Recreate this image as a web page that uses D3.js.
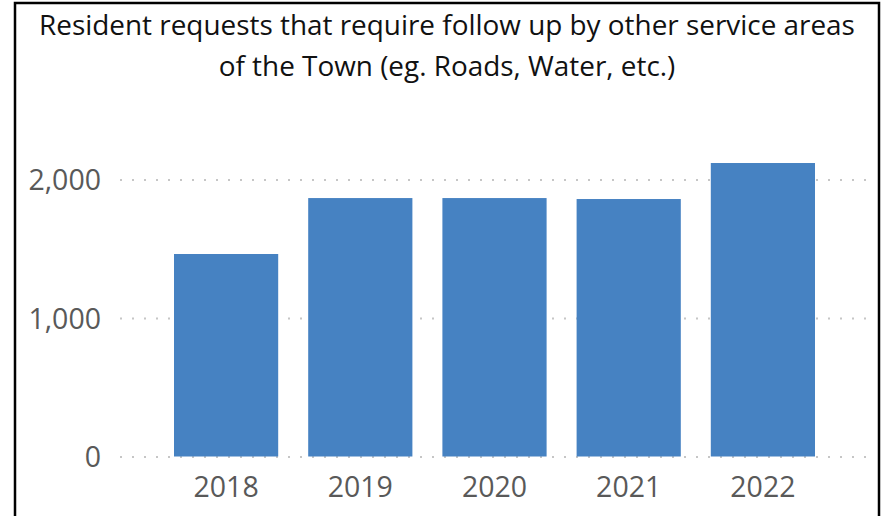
<!DOCTYPE html>
<html>
<head>
<meta charset="utf-8">
<script src="https://cdn.jsdelivr.net/npm/d3@7"></script>
<style>
  html, body { margin: 0; padding: 0; background: #fff; }
  svg { display: block; }
  text { font-family: "Open Sans", sans-serif; }
</style>
</head>
<body>
<svg id="chart" width="885" height="516"></svg>
<script>
const years = ["2018", "2019", "2020", "2021", "2022"];
const requests = [1462, 1866, 1866, 1859, 2119];
const yTicks = [0, 1000, 2000];
const titleLines = [
  "Resident requests that require follow up by other service areas",
  "of the Town (eg. Roads, Water, etc.)"
];

const svg = d3.select("#chart");

// outer frame
svg.append("rect")
  .attr("x", 15).attr("y", 3)
  .attr("width", 864).attr("height", 600)
  .attr("fill", "none").attr("stroke", "#000").attr("stroke-width", 2.5);

// title
svg.append("g").selectAll("text").data(titleLines).join("text")
  .attr("x", 447).attr("y", (d, i) => 35 + i * 41)
  .attr("text-anchor", "middle")
  .attr("font-size", 27.9)
  .attr("fill", "#111")
  .text(d => d);

const y = d3.scaleLinear().domain([0, 2000]).range([456.5, 179.5]);
const x = d3.scaleBand().domain(years).range([159, 830])
  .paddingInner(30 / 134.2).paddingOuter(15 / 134.2);

// gridlines
const yAxis = d3.axisLeft(y).tickValues(yTicks).tickFormat(d3.format(","))
  .tickSize(-(866 - 120)).tickPadding(20);
const gy = svg.append("g").attr("transform", "translate(120,0)").call(yAxis);
gy.select(".domain").remove();
gy.selectAll(".tick line")
  .attr("stroke", "#c6c6c6").attr("stroke-width", 2)
  .attr("stroke-dasharray", "2,10");
gy.selectAll(".tick text")
  .attr("font-size", 28.5).attr("fill", "#595959")
  .attr("font-family", "Open Sans, sans-serif")
  .attr("x", -19).attr("dy", "0.36em");

// bars
svg.append("g").selectAll("rect").data(requests).join("rect")
  .attr("x", (d, i) => x(years[i]))
  .attr("width", x.bandwidth())
  .attr("y", d => y(d))
  .attr("height", d => y(0) - y(d))
  .attr("fill", "#4682c2");

// x axis labels
const xAxis = d3.axisBottom(x).tickSize(0).tickPadding(0);
const gx = svg.append("g").attr("transform", "translate(0,456.5)").call(xAxis);
gx.select(".domain").remove();
gx.selectAll(".tick text")
  .attr("font-size", 28.5).attr("fill", "#595959")
  .attr("font-family", "Open Sans, sans-serif")
  .attr("y", 40).attr("dy", 0);
</script>
</body>
</html>
